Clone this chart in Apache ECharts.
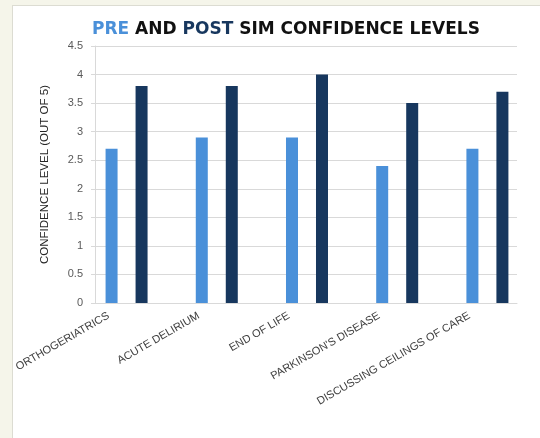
<!DOCTYPE html>
<html>
<head>
    <meta charset="utf-8">
    <title>Pre and post sim confidence levels</title>
    <script src="https://cdn.jsdelivr.net/npm/echarts@6/dist/echarts.min.js"></script>
    <style>
        html, body { margin: 0; padding: 0; }
        body { width: 540px; height: 438px; background: #f5f5ea; position: relative; overflow: hidden; }
        .panel { position: absolute; left: 12px; top: 5px; right: 0; bottom: 0; background: #fff;
                 border-left: 1px solid #dcdcd2; border-top: 1px solid #dcdcd2; }
        #chart { position: absolute; left: 0; top: 0; width: 540px; height: 438px; }
    </style>
</head>
<body>
    <div class="panel"></div>
    <div id="chart"></div>
    <script>
        // data
        var categories = ['ORTHOGERIATRICS', 'ACUTE DELIRIUM', 'END OF LIFE', "PARKINSON'S DISEASE", 'DISCUSSING CEILINGS OF CARE'];
        var preSim = [2.7, 2.9, 2.9, 2.4, 2.7];
        var postSim = [3.8, 3.8, 4.0, 3.5, 3.7];
        var yMin = 0, yMax = 4.5, yStep = 0.5;

        var PRE_COLOR = '#4a90d9';
        var POST_COLOR = '#17375e';
        var GRID_COLOR = '#d9d9d9';

        // category slots sit on a value axis so the bars keep the original spacing
        var labelShift = 0.2;

        var titleFont = { fontFamily: 'DejaVu Sans', fontWeight: 'bold', fontSize: 17 };

        var chart = echarts.init(document.getElementById('chart'));
        var option = {
            animation: false,
            backgroundColor: 'transparent',
            title: {
                left: 87,
                top: 16,
                text: '{pre|PRE} {rest|AND} {post|POST} {rest|SIM CONFIDENCE LEVELS}',
                textStyle: {
                    fontFamily: titleFont.fontFamily,
                    fontWeight: 'bold',
                    fontSize: titleFont.fontSize,
                    rich: {
                        pre: Object.assign({ color: PRE_COLOR }, titleFont),
                        post: Object.assign({ color: POST_COLOR }, titleFont),
                        rest: Object.assign({ color: '#111' }, titleFont)
                    }
                }
            },
            grid: { left: 95, right: 23, top: 46, bottom: 135 },
            xAxis: {
                type: 'value',
                min: -0.35,
                max: 4.328,
                axisLine: { show: true, onZero: false, lineStyle: { color: GRID_COLOR } },
                axisTick: { show: false },
                splitLine: { show: false },
                axisLabel: {
                    customValues: categories.map(function (c, i) { return i - labelShift; }),
                    formatter: function (v) { return categories[Math.round(v + labelShift)] || ''; },
                    rotate: 30,
                    margin: 12,
                    color: '#404040',
                    fontFamily: 'Liberation Sans, Arial',
                    fontSize: 11
                }
            },
            yAxis: {
                type: 'value',
                min: yMin,
                max: yMax,
                interval: yStep,
                name: 'CONFIDENCE LEVEL (OUT OF 5)',
                nameLocation: 'middle',
                nameGap: 44,
                nameTextStyle: { color: '#262626', fontFamily: 'Liberation Sans, Arial', fontSize: 11.5 },
                axisLine: { show: true, onZero: false, lineStyle: { color: GRID_COLOR } },
                axisTick: { show: true, length: 4, lineStyle: { color: GRID_COLOR } },
                splitLine: { lineStyle: { color: GRID_COLOR } },
                axisLabel: { color: '#595959', fontFamily: 'Liberation Sans, Arial', fontSize: 11, margin: 12 }
            },
            series: [
                {
                    name: 'Pre',
                    type: 'bar',
                    barWidth: 12,
                    barGap: '150%',
                    itemStyle: { color: PRE_COLOR },
                    data: preSim.map(function (v, i) { return [i, v]; })
                },
                {
                    name: 'Post',
                    type: 'bar',
                    barWidth: 12,
                    barGap: '150%',
                    itemStyle: { color: POST_COLOR },
                    data: postSim.map(function (v, i) { return [i, v]; })
                }
            ]
        };
        chart.setOption(option);
    </script>
</body>
</html>
